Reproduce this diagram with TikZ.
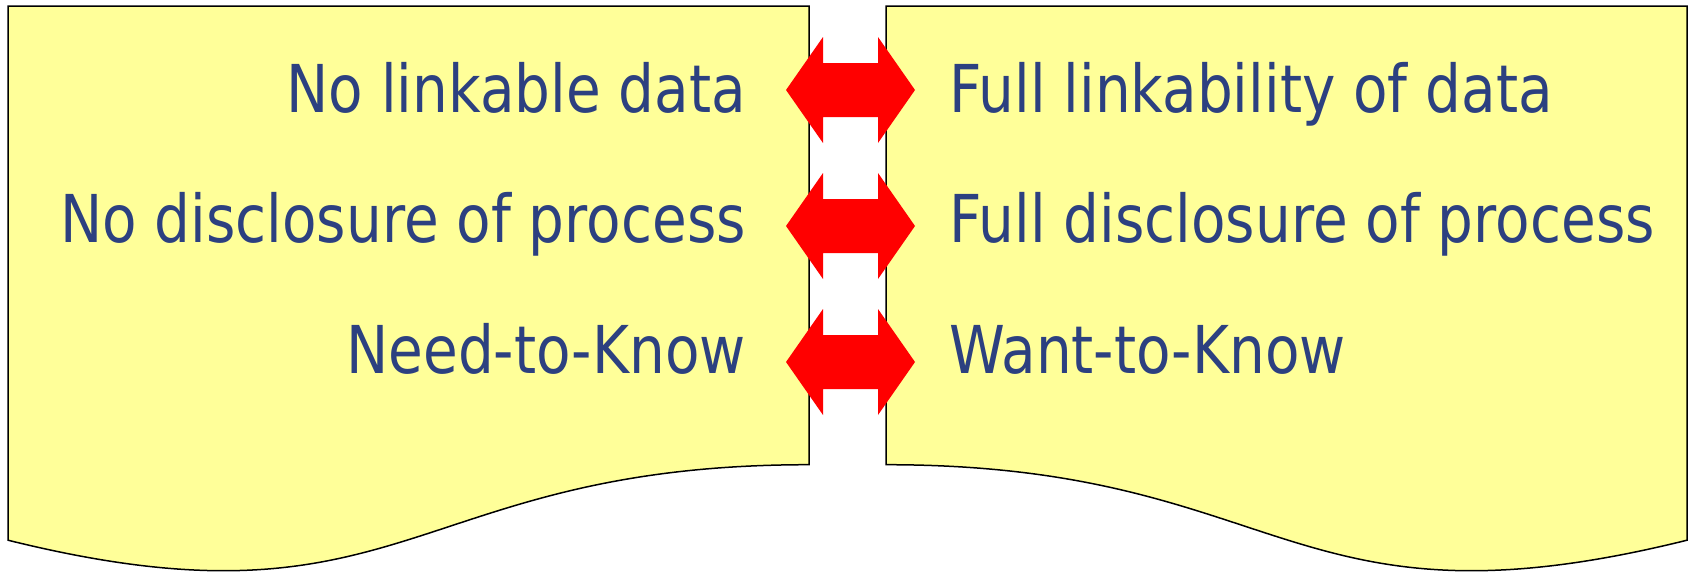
\documentclass[tikz,border=0pt]{standalone}
\usepackage{fontspec}
\newfontfamily\tah[FakeStretch=0.855]{DejaVu Sans}
\definecolor{docyellow}{HTML}{FFFF99}
\definecolor{txtblue}{RGB}{44,64,128}
\begin{document}
\begin{tikzpicture}[x=1pt,y=-1pt,
  doc/.style={fill=docyellow, draw=black, line width=1.5pt, line join=miter},
  lbl/.style={inner sep=0pt, text=txtblue, font=\tah\fontsize{66}{70}\selectfont},
  lefttxt/.style={lbl, anchor=base east},
  righttxt/.style={lbl, anchor=base west},
  dblarrow/.pic={\fill[red] (-64.5,0) -- (-27.5,-53) -- (-27.5,-27) -- (27.5,-27) -- (27.5,-53) -- (64.5,0) -- (27.5,53) -- (27.5,27) -- (-27.5,27) -- (-27.5,53) -- cycle;}]
\useasboundingbox (0,0) rectangle (1694,573);
% left document shape
\path[doc] (8,6) -- (809,6) -- (809,464.7)
  .. controls (408.5,464.7) and (408.5,639.5) .. (8,540.2) -- cycle;
% right document shape (mirrored)
\path[doc] (886,6) -- (1687,6) -- (1687,540.2)
  .. controls (1286.5,639.5) and (1286.5,464.7) .. (886,464.7) -- cycle;
% labels
\node[lefttxt] (l1) at (746,112) {No linkable data};
\node[lefttxt] (l2) at (746,242.5) {No disclosure of process};
\node[lefttxt] (l3) at (746,373) {Need-to-Know};
\node[righttxt] (r1) at (949,112) {Full linkability of data};
\node[righttxt] (r2) at (949,242.5) {Full disclosure of process};
\node[righttxt] (r3) at (949,373) {Want-to-Know};
% double arrows
\pic at (850.5,90) {dblarrow};
\pic at (850.5,226) {dblarrow};
\pic at (850.5,362) {dblarrow};
\end{tikzpicture}
\end{document}
